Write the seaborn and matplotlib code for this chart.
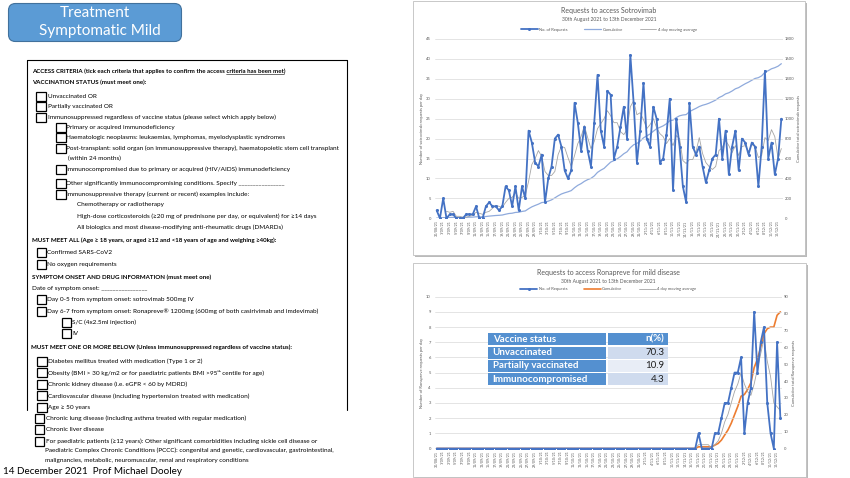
import numpy as np
import pandas as pd
import matplotlib.pyplot as plt
import matplotlib.patches as mpatches
from matplotlib.lines import Line2D
from matplotlib.colors import LinearSegmentedColormap
import seaborn as sns

# --- data: one value per day, 30 Aug 2021 to 13 Dec 2021 ---
start_date = "2021-08-30"
end_date = "2021-12-13"

sotrovimab_daily = [2, 0, 5, 0, 1, 1, 0, 0, 0, 1, 1, 1, 3, 0, 0, 3, 4, 3, 3, 2,
                    3, 8, 7, 3, 8, 2, 8, 5, 22, 19, 14, 13, 16, 4, 10, 13, 20, 21, 18, 12,
                    10, 12, 29, 24, 17, 23, 17, 13, 24, 36, 22, 18, 32, 31, 15, 18, 23, 28, 20, 41,
                    29, 14, 22, 34, 20, 18, 28, 25, 14, 15, 21, 30, 7, 25, 18, 8, 4, 29, 18, 16,
                    18, 13, 9, 12, 15, 16, 25, 15, 22, 11, 18, 22, 12, 20, 19, 16, 19, 18, 8, 18,
                    37, 15, 19, 11, 15, 25]

ronapreve_daily = [0] * 80 + [1, 0, 0, 0, 0, 1, 1, 2, 3, 3, 4, 5, 5, 6, 1, 3, 4, 9, 5, 7,
                              8, 3, 1, 0, 7, 2]

vaccine_status = ["Unvaccinated", "Partially vaccinated", "Immunocompromised"]
vaccine_pct = [70.3, 10.9, 4.3]

legend_labels = ["No. of Requests", "Cumulative", "4 day moving average"]

dates = pd.date_range(start_date, end_date, freq="D")
date_labels = [f"{d.day}/{d.month:02d}/{d.strftime('%y')}" for d in dates]

# --- form text on the left of the slide: (text x, y, text, bold, checkbox x) ---
form_rows = [
    (32, 82.5, "VACCINATION STATUS (must meet one):", True, None),
    (48, 96.3, "Unvaccinated OR", False, 36.5),
    (48, 106.2, "Partially vaccinated OR", False, 36.5),
    (48, 117.5, "Immunosuppressed regardless of vaccine status (please select which apply below)", False, 36.5),
    (66.5, 127.5, "Primary or acquired immunodeficiency", False, 56.5),
    (66.5, 137.7, "Haematologic neoplasms: leukaemias, lymphomas, myelodysplastic syndromes", False, 56.5),
    (66.5, 148.5, "Post-transplant: solid organ (on immunosuppressive therapy), haematopoietic stem cell transplant", False, 56.5),
    (68, 158.7, "(within 24 months)", False, None),
    (66.5, 169, "Immunocompromised due to primary or acquired (HIV/AIDS) immunodeficiency", False, 56.5),
    (66.5, 183, "Other significantly immunocompromising conditions. Specify ________________", False, 56.5),
    (66.5, 194, "Immunosuppressive therapy (current or recent) examples include:", False, 56.5),
    (77.3, 204.5, "Chemotherapy or radiotherapy", False, None),
    (77.3, 216.7, "High-dose corticosteroids (≥20 mg of prednisone per day, or equivalent) for ≥14 days", False, None),
    (77.3, 227.5, "All biologics and most disease-modifying anti-rheumatic drugs (DMARDs)", False, None),
    (31.7, 240.3, "MUST MEET ALL (Age ≥ 18 years, or aged ≥12 and <18 years of age and weighing ≥40kg):", True, None),
    (47.3, 252.7, "Confirmed SARS-CoV2", False, 36.7),
    (47.3, 264.5, "No oxygen requirements", False, 36.7),
    (31.7, 277.3, "SYMPTOM ONSET AND DRUG INFORMATION (must meet one)", True, None),
    (31.7, 288.7, "Date of symptom onset: ________________", False, None),
    (47.3, 299.7, "Day 0-5 from symptom onset: sotrovimab 500mg IV", False, 36.7),
    (47.3, 311.3, "Day 6-7 from symptom onset: Ronapreve® 1200mg (600mg of both casirivimab and imdevimab)", False, 36.7),
    (72, 322.7, "S/C (4x2.5ml injection)", False, 61.7),
    (72, 333.3, "IV", False, 61.7),
    (31, 347.7, "MUST MEET ONE OR MORE BELOW (Unless immunosuppressed regardless of vaccine status):", True, None),
    (48.3, 361.7, "Diabetes mellitus treated with medication (Type 1 or 2)", False, 37.3),
    (48.3, 372.5, "Obesity (BMI > 30 kg/m2 or for paediatric patients BMI >95ᵗʰ centile for age)", False, 37.3),
    (48.3, 384.3, "Chronic kidney disease (i.e. eGFR < 60 by MDRD)", False, 37.3),
    (48.3, 395.8, "Cardiovascular disease (including hypertension treated with medication)", False, 37.3),
    (48.3, 407.3, "Age ≥ 50 years", False, 37.3),
    (46, 418.5, "Chronic lung disease (including asthma treated with regular medication)", False, 35),
    (46, 429.5, "Chronic liver disease", False, 35),
    (46, 441.7, "For paediatric patients (≥12 years): Other significant comorbidities including sickle cell disease or", False, 35),
    (45, 450.5, "Paediatric Complex Chronic Conditions (PCCC): congenital and genetic, cardiovascular, gastrointestinal,", False, None),
    (45, 460.5, "malignancies, metabolic, neuromuscular, renal and respiratory conditions", False, None),
]

BLUE = "#4472c4"
LIGHT_BLUE = "#8faadc"
ORANGE = "#ed7d31"
GREY = "#a5a5a5"
TXT = "#595959"
TABLE_BLUE = "#5490d0"
FS_BOLD = 4.45
FS_NORM = 4.6

sns.set_theme(style="white")
plt.rcParams['font.family'] = ['Lato', 'DejaVu Sans']

W, H = 850, 478
fig = plt.figure(figsize=(8.5, 4.78), dpi=100)
fig.patch.set_facecolor("white")
renderer = fig.canvas.get_renderer()


def px_rect(x0, y0, x1, y1):
    return [x0 / W, 1 - y1 / H, (x1 - x0) / W, (y1 - y0) / H]


# background canvas in pixel units
bg = fig.add_axes([0, 0, 1, 1], zorder=-5)
bg.axis("off")
bg.set_xlim(0, W)
bg.set_ylim(H, 0)

# title box
box = mpatches.FancyBboxPatch((8.5, 3.5), 173, 38, boxstyle="round,pad=0,rounding_size=7",
                              fc="#5b9bd5", ec="none")
bg.add_patch(box)
grad = np.linspace(0, 1, 64).reshape(-1, 1)
cmap = LinearSegmentedColormap.from_list("g", ["#82b4e6", "#4c88c8"])
im = bg.imshow(grad, cmap=cmap, extent=(8.5, 181.5, 41.5, 3.5), aspect="auto")
im.set_clip_path(box)
bg.add_patch(mpatches.FancyBboxPatch((8.5, 3.5), 173, 38, boxstyle="round,pad=0,rounding_size=7",
                                     fc="none", ec="#41719c", lw=0.8))
bg.text(95, 13, "Treatment", color="white", fontsize=11, ha="center", va="center")
bg.text(100, 31, "Symptomatic Mild", color="white", fontsize=11, ha="center", va="center")

# form frame
bg.plot([27, 347], [60, 60], color="black", lw=0.8)
bg.plot([27, 27], [60, 410], color="black", lw=0.8)
bg.plot([347, 347], [60, 410], color="black", lw=0.8)


def text_width(s, **kw):
    t = bg.text(0, 0, s, **kw)
    w = t.get_window_extent(renderer).width
    t.remove()
    return w


# first header line, with the underlined words
hdr_kw = dict(fontsize=FS_BOLD, fontweight="bold", color="black", ha="left", va="center")
hdr_a = "ACCESS CRITERIA (tick each criteria that applies to confirm the access "
hdr_b = "criteria has been met"
bg.text(32, 71, hdr_a + hdr_b + ")", **hdr_kw)
ux0 = 32 + text_width(hdr_a, **hdr_kw)
ux1 = 32 + text_width(hdr_a + hdr_b, **hdr_kw)
bg.plot([ux0, ux1], [74.2, 74.2], color="black", lw=0.4)

for tx, ty, text, bold, bx in form_rows:
    bg.text(tx, ty, text, fontsize=FS_BOLD if bold else FS_NORM,
            fontweight="bold" if bold else "normal", color="black", ha="left", va="center")
    if bx is not None:
        bg.add_patch(mpatches.Rectangle((bx, ty - 4.5), 9.3, 9, fc="white", ec="black", lw=0.9))

bg.text(3.3, 471.7, "14 December 2021  Prof Michael Dooley", fontsize=7.1, color="black",
        ha="left", va="center")

# chart frames with shadow
for x0, y0, x1, y1 in [(413, 1, 805, 255), (413, 263, 806, 477)]:
    bg.add_patch(mpatches.Rectangle((x0 + 2, y0 + 2), x1 - x0, y1 - y0, fc="#8c8c8c", ec="none", alpha=0.6))
    bg.add_patch(mpatches.Rectangle((x0, y0), x1 - x0, y1 - y0, fc="white", ec="#bfbfbf", lw=0.6))


def draw_chart(px, daily, cum_color, cum_lw, left_max, left_step, right_max, right_step,
               ylab_left, ylab_right, title, title_y, legend_y):
    ax = fig.add_axes(px_rect(*px))
    ax2 = ax.twinx()
    df = pd.DataFrame({"day": np.arange(len(daily)), "requests": daily})
    df["cumulative"] = df["requests"].cumsum()
    df["ma4"] = df["requests"].rolling(4).mean()

    sns.lineplot(data=df, x="day", y="cumulative", ax=ax2, color=cum_color, lw=cum_lw)
    sns.lineplot(data=df, x="day", y="ma4", ax=ax, color=GREY, lw=0.6)
    sns.lineplot(data=df, x="day", y="requests", ax=ax, color=BLUE, lw=1.3,
                 marker="o", markersize=2.2, markeredgewidth=0)
    ax.set_zorder(ax2.get_zorder() + 1)
    ax.patch.set_visible(False)

    ax.set_xlim(-0.5, len(daily) - 0.5)
    ax.set_ylim(0, left_max)
    ax2.set_ylim(0, right_max)
    ax.set_yticks(np.arange(0, left_max + 0.01, left_step))
    ax2.set_yticks(np.arange(0, right_max + 0.01, right_step))
    ax.set_xticks(df["day"][::2])
    ax.set_xticklabels(date_labels[::2], rotation=90)
    ax.yaxis.grid(True, color="#d9d9d9", lw=0.5)
    ax.set_axisbelow(True)
    for a in (ax, ax2):
        for s in a.spines.values():
            s.set_visible(False)
        a.tick_params(length=0, labelsize=3.0, colors=TXT)
    ax.tick_params(axis="y", pad=3)
    ax.tick_params(axis="x", pad=1.5, labelsize=2.6)
    ax2.tick_params(axis="y", pad=1.5)
    ax.set_xlabel("")
    ax2.set_xlabel("")
    ax.set_ylabel(ylab_left, fontsize=3.0, color=TXT, labelpad=1.5)
    ax2.set_ylabel(ylab_right, fontsize=3.0, color=TXT, labelpad=2)

    cx = (px[0] + px[2]) / 2
    bg.text(cx, title_y, title, fontsize=5.0, color=TXT, ha="center", va="center")
    bg.text(cx, title_y + 9.5, "30th August 2021 to 13th December 2021", fontsize=3.6, color=TXT,
            ha="center", va="center")
    handles = [Line2D([], [], color=BLUE, lw=1.3, marker="o", markersize=2.2, markeredgewidth=0),
               Line2D([], [], color=cum_color, lw=cum_lw),
               Line2D([], [], color=GREY, lw=0.6)]
    ax.legend(handles, legend_labels, loc="center", bbox_to_anchor=(cx, legend_y),
              bbox_transform=bg.transData, ncol=3, frameon=False, fontsize=3.0,
              handlelength=4, columnspacing=4, handletextpad=0.4, labelcolor=TXT)
    return ax


draw_chart((435, 39, 783, 218.3), sotrovimab_daily, LIGHT_BLUE, 0.9, 45, 5, 1800, 200,
           "Number of sotrovimab requests per day", "Cumulative total sotrovimab requests",
           "Requests to access Sotrovimab", 10, 29.7)
draw_chart((435, 296.7, 782, 448.5), ronapreve_daily, ORANGE, 1.2, 10, 1, 90, 10,
           "Number of Ronapreve requests per day", "Cumulative total Ronapreve requests",
           "Requests to access Ronapreve for mild disease", 272, 289)

# vaccine status table over the second chart
top = fig.add_axes([0, 0, 1, 1], zorder=20)
top.patch.set_visible(False)
top.axis("off")
row_y = [(333.3, 345), (347, 358.7), (360.2, 371.8), (373.3, 385)]
col_left = (487.7, 606.5)
col_right = (608, 668.3)
right_fill = ["#cfdbee", "#e8edf6", "#cfdbee"]
header = ["Vaccine status", "n(%)"]
for i, (y0, y1) in enumerate(row_y):
    yc = (y0 + y1) / 2
    top.add_patch(mpatches.Rectangle((col_left[0], y0), col_left[1] - col_left[0], y1 - y0,
                                     fc=TABLE_BLUE, ec="none"))
    fill = TABLE_BLUE if i == 0 else right_fill[i - 1]
    top.add_patch(mpatches.Rectangle((col_right[0], y0), col_right[1] - col_right[0], y1 - y0,
                                     fc=fill, ec="none"))
    left_txt = header[0] if i == 0 else vaccine_status[i - 1]
    right_txt = header[1] if i == 0 else f"{vaccine_pct[i - 1]:.1f}"
    top.text(col_left[0] + 5, yc, left_txt, fontsize=7.0, fontweight="bold", color="white",
             ha="left", va="center")
    top.text(col_right[1] - 4, yc, right_txt, fontsize=7.0,
             fontweight="bold" if i == 0 else "normal",
             color="white" if i == 0 else "#1f1f1f", ha="right", va="center")
top.set_xlim(0, W)
top.set_ylim(H, 0)

fig.savefig("out.png", dpi=100)
